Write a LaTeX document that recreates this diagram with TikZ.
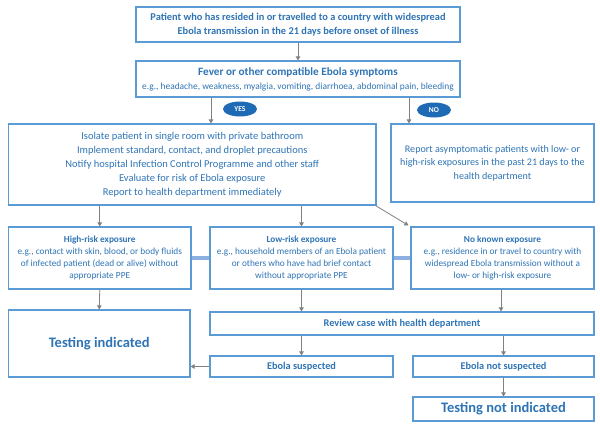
\documentclass[tikz,border=0pt]{standalone}
\usepackage{fontspec}
\setmainfont{Carlito}
\usetikzlibrary{arrows.meta,shapes.geometric,calc}
\definecolor{bord}{HTML}{5B9BD5}
\definecolor{txt}{HTML}{2E74B5}
\definecolor{dark}{HTML}{1F6AB5}
\definecolor{arrg}{HTML}{808080}
\definecolor{thick}{HTML}{8EB0E0}
\begin{document}
\begin{tikzpicture}[x=1pt,y=-1pt,
  box/.style={draw=bord,line width=1.1pt,rectangle,inner sep=0pt,align=center,text=txt,font=\fontsize{9.4}{14}\selectfont},
  arr/.style={draw=arrg,line width=0.8pt,-{Triangle[length=4pt,width=4.5pt]}},
  link/.style={draw=thick,line width=4pt},
  pill/.style={ellipse,fill=dark,text=white,inner sep=0pt,minimum width=34pt,minimum height=15pt,font=\fontsize{7.5}{8}\selectfont\bfseries}
]
\useasboundingbox (0,0) rectangle (600,429);
\node[box,minimum width=324pt,minimum height=35pt,font=\fontsize{10.4}{14}\selectfont\bfseries] (b1) at (298,24.5)
  {Patient who has resided in or travelled to a country with widespread\\Ebola transmission in the 21 days before onset of illness};
\node[box,minimum width=324pt,minimum height=36pt] (b2) at (298,79)
  {{\fontsize{11.2}{14.5}\selectfont\bfseries Fever or other compatible Ebola symptoms}\\e.g., headache, weakness, myalgia, vomiting, diarrhoea, abdominal pain, bleeding};
\node[box,minimum width=367.5pt,minimum height=81pt,font=\fontsize{10.5}{14}\selectfont] (b3) at (192.25,164.5)
  {Isolate patient in single room with private bathroom\\Implement standard, contact, and droplet precautions\\Notify hospital Infection Control Programme and other staff\\Evaluate for risk of Ebola exposure\\Report to health department immediately};
\node[box,minimum width=203pt,minimum height=78pt,font=\fontsize{10.1}{13.5}\selectfont] (b4) at (492.5,163)
  {Report asymptomatic patients with low- or\\high-risk exposures in the past 21 days to the\\health department};
\node[box,minimum width=182.5pt,minimum height=62pt,font=\fontsize{9.3}{12}\selectfont] (b5) at (99.75,258)
  {{\bfseries High-risk exposure}\\e.g., contact with skin, blood, or body fluids\\of infected patient (dead or alive) without\\appropriate PPE};
\node[box,minimum width=183pt,minimum height=62pt,font=\fontsize{9.3}{12}\selectfont] (b6) at (301.5,258)
  {{\bfseries Low-risk exposure}\\e.g., household members of an Ebola patient\\or others who have had brief contact\\without appropriate PPE};
\node[box,minimum width=183pt,minimum height=62pt,font=\fontsize{9.3}{12}\selectfont] (b7) at (502.5,258)
  {{\bfseries No known exposure}\\e.g., residence in or travel to country with\\widespread Ebola transmission without a\\low- or high-risk exposure};
\node[box,minimum width=181.5pt,minimum height=67pt,font=\fontsize{14.5}{16}\selectfont\bfseries] (b8) at (99.25,343.5) {Testing indicated};
\node[box,minimum width=384pt,minimum height=23pt,font=\fontsize{10.3}{11}\selectfont\bfseries] (b9) at (402,323.5) {Review case with health department};
\node[box,minimum width=183pt,minimum height=21pt,font=\fontsize{10.3}{11}\selectfont\bfseries] (b10) at (301.5,366.5) {Ebola suspected};
\node[box,minimum width=181pt,minimum height=21pt,font=\fontsize{10.3}{11}\selectfont\bfseries] (b11) at (503.5,366.5) {Ebola not suspected};
\node[box,minimum width=181pt,minimum height=24pt,font=\fontsize{14.5}{16}\selectfont\bfseries] (b12) at (503.5,409) {Testing not indicated};
\node[pill] (yes) at (240,109) {YES};
\node[pill] (no) at (434,110) {NO};
% connectors
\draw[arr] (b1.south) -- (b2.north);
\draw[arr] ([xshift=-87pt]b2.south) -- ([xshift=-87pt]b2.south |- b3.north);
\draw[arr] ([xshift=111pt]b2.south) -- ([xshift=111pt]b2.south |- b4.north);
\draw[arr] (b3.south -| b5.north) -- (b5.north);
\draw[arr] (b3.south -| b6.north) -- (b6.north);
\draw[arr] ([xshift=-1pt]b3.south east) -- ([xshift=-2pt,yshift=1pt]b7.north west);
\draw[link] (b5.east) -- (b6.west);
\draw[link] (b6.east) -- (b7.west);
\draw[arr] (b5.south) -- (b8.north);
\draw[arr] (b6.south) -- (b6.south |- b9.north);
\draw[arr] ([xshift=-1.5pt]b7.south) -- ([xshift=-1.5pt]b7.south |- b9.north);
\draw[arr] (b10.north |- b9.south) -- (b10.north);
\draw[arr] (b11.north |- b9.south) -- (b11.north);
\draw[arr] (b11.south) -- (b12.north);
\draw[arr] (b10.west) -- (b10.west -| b8.east);
\end{tikzpicture}
\end{document}
